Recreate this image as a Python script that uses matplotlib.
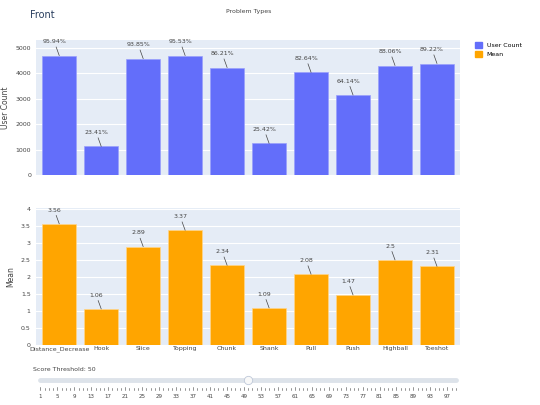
import numpy as np
import matplotlib.pyplot as plt

categories = ["Distance_Decrease", "Hook", "Slice", "Topping", "Chunk",
              "Shank", "Pull", "Push", "Highball", "Toeshot"]
user_count = [4690, 1120, 4570, 4690, 4220, 1240, 4030, 3140, 4300, 4380]
pct_labels = ["95.94%", "23.41%", "93.85%", "95.53%", "86.21%",
              "25.42%", "82.64%", "64.14%", "88.06%", "89.22%"]
means = [3.56, 1.06, 2.89, 3.37, 2.34, 1.09, 2.08, 1.47, 2.5, 2.31]
slider_ticks = list(range(1, 100, 4))
threshold = 50

BLUE = "#636efa"
ORANGE = "#FFA500"
BG = "#e5ecf6"
TXT = "#2a3f5f"

fig = plt.figure(figsize=(5.4, 4.05), dpi=100)
ax1 = fig.add_axes([0.067, 0.568, 0.785, 0.333])
ax2 = fig.add_axes([0.067, 0.148, 0.785, 0.338])
x = np.arange(len(categories))

def style(ax):
    ax.set_facecolor(BG)
    ax.grid(axis="y", color="white", lw=0.8)
    ax.set_axisbelow(True)
    for s in ax.spines.values():
        s.set_visible(False)
    ax.tick_params(length=0, labelsize=4.5, labelcolor="#444")
    ax.set_xlim(-0.55, len(categories) - 0.45)

style(ax1)
ax1.bar(x, user_count, width=0.8, color=BLUE, edgecolor="#9aa0fc", lw=0.5, label="User Count")
ax1.set_ylim(0, 5300)
ax1.set_yticks([0, 1000, 2000, 3000, 4000, 5000])
ax1.set_xticks([])
ax1.set_ylabel("User Count", fontsize=5.5, color="#444")
for xi, v, t in zip(x, user_count, pct_labels):
    ax1.annotate(t, xy=(xi, v), xytext=(xi - 0.12, v + 450), fontsize=4.5, color="#444",
                 ha="center", va="bottom", annotation_clip=False,
                 arrowprops=dict(arrowstyle="-", color="#444", lw=0.5, shrinkA=0, shrinkB=0))

style(ax2)
ax2.bar(x, means, width=0.8, color=ORANGE, edgecolor="#ffd58a", lw=0.5, label="Mean")
ax2.set_ylim(0, 4.02)
ax2.set_yticks([0, 0.5, 1, 1.5, 2, 2.5, 3, 3.5, 4])
ax2.set_yticklabels(["0", "0.5", "1", "1.5", "2", "2.5", "3", "3.5", "4"])
ax2.tick_params(axis="y", pad=4)
ax2.set_xticks(x)
ax2.set_xticklabels(categories)
ax2.tick_params(axis="x", pad=1)
ax2.set_ylabel("Mean", fontsize=5.5, color="#444")
for xi, v in zip(x, means):
    ax2.annotate(f"{v:g}", xy=(xi, v), xytext=(xi - 0.12, v + 0.33), fontsize=4.5, color="#444",
                 ha="center", va="bottom", annotation_clip=False,
                 arrowprops=dict(arrowstyle="-", color="#444", lw=0.5, shrinkA=0, shrinkB=0))

fig.text(0.055, 0.955, "Front", fontsize=7, color=TXT)
fig.text(0.46, 0.968, "Problem Types", fontsize=4.5, color="#444", ha="center")

handles = [plt.Rectangle((0, 0), 1, 1, color=BLUE), plt.Rectangle((0, 0), 1, 1, color=ORANGE)]
fig.legend(handles, ["User Count", "Mean"], loc="upper left", bbox_to_anchor=(0.87, 0.91),
           frameon=False, fontsize=4.5, handlelength=1, handleheight=1)

# slider
sl = fig.add_axes([0.067, 0.0, 0.785, 0.1])
sl.set_xlim(0, 100)
sl.set_ylim(0, 1)
sl.axis("off")
sl.plot([1, 99], [0.62, 0.62], color="#dde3ea", lw=3.5, solid_capstyle="round")
sl.plot([threshold], [0.62], "o", ms=6, mfc="#f8f8f8", mec="#bec8d9", mew=0.6)
for t in range(1, 100):
    sl.plot([t, t], [0.38, 0.44 if t in slider_ticks else 0.41], color="#444", lw=0.4)
for t in slider_ticks:
    sl.text(t, 0.2, str(t), fontsize=4, color="#444", ha="center", va="center")
fig.text(0.062, 0.085, f"Score Threshold: {threshold}", fontsize=4.5, color="#444")

fig.savefig("out.png", dpi=100, facecolor="white")
